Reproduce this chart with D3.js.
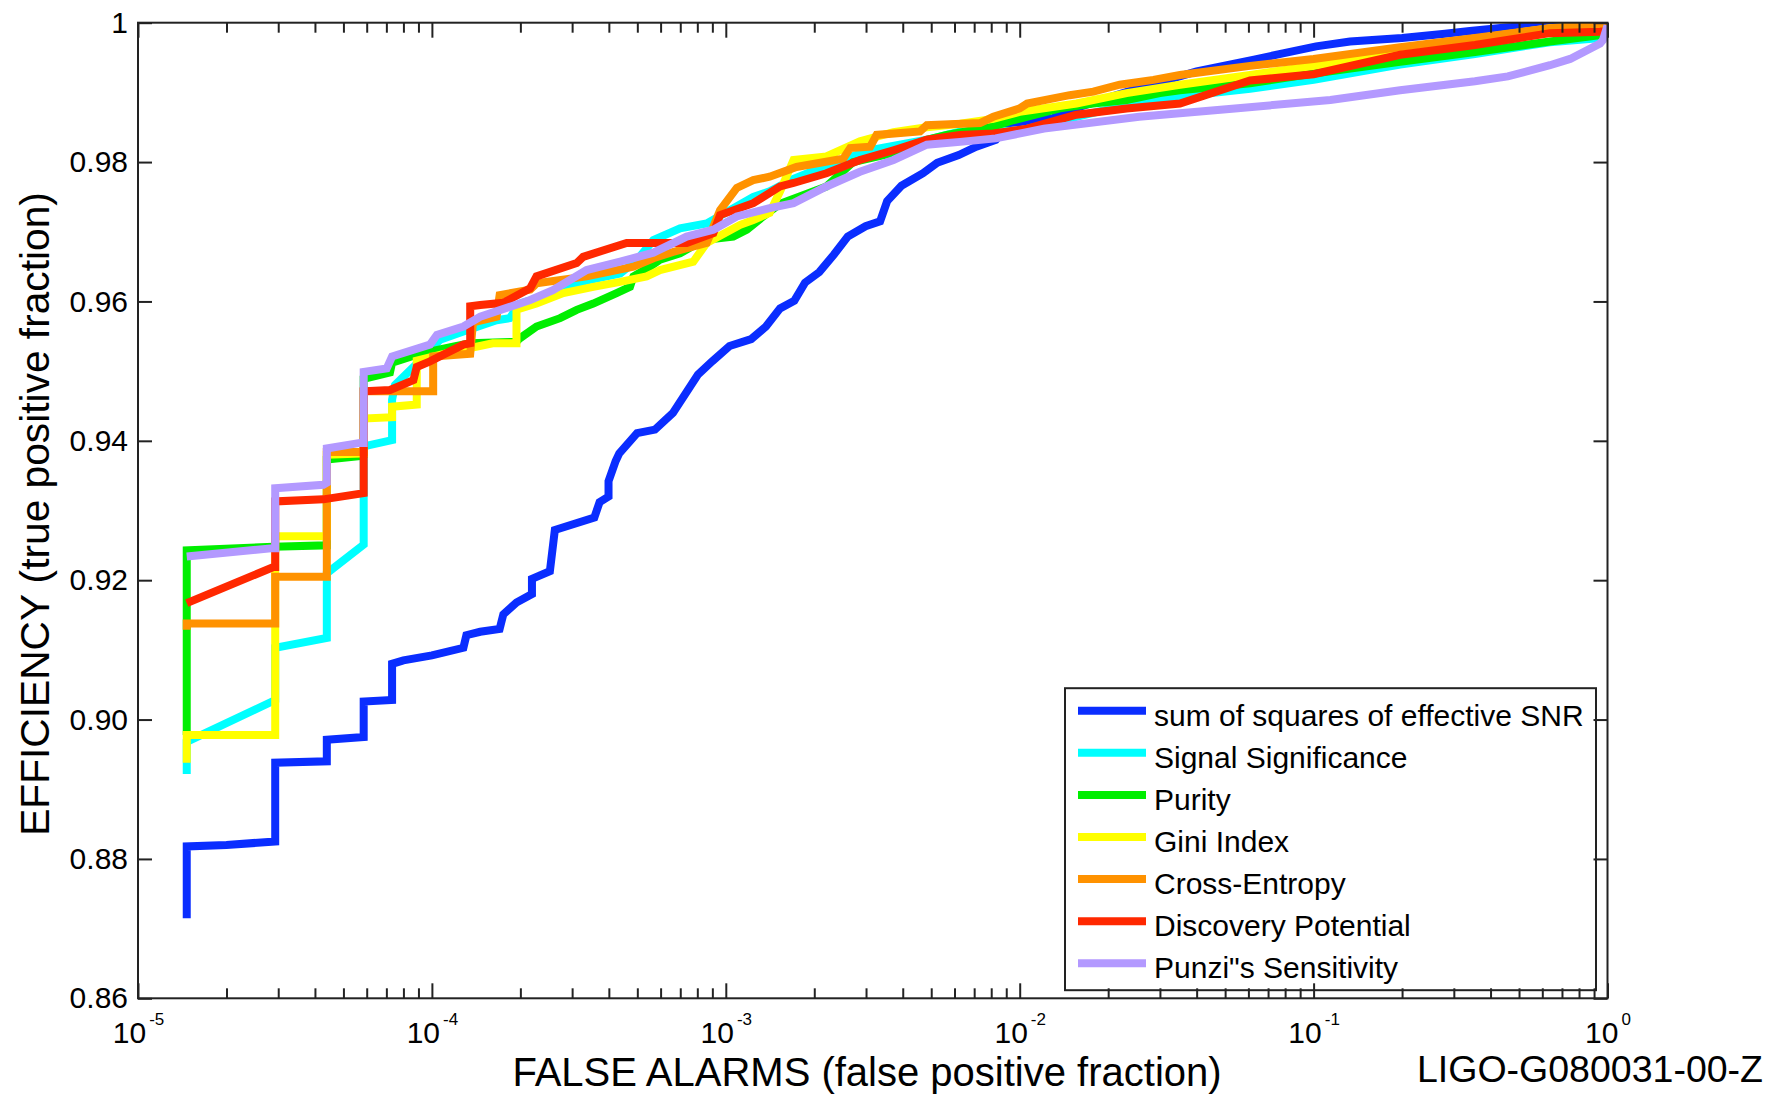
<!DOCTYPE html>
<html>
<head>
<meta charset="utf-8">
<script src="https://cdn.jsdelivr.net/npm/d3@7"></script>
<style>
  body { margin: 0; background: #fff; }
  text { font-family: "Liberation Sans", Arial, Helvetica, sans-serif; fill: #000; }
</style>
</head>
<body>
<div id="chart"></div>
<script>
// ---- data: [false alarm fraction, efficiency] ----

const sumSnr = [
  [1.465e-5, 0.8715], [1.465e-5, 0.8818], [2.0e-5, 0.8820], [2.93e-5, 0.8825],
  [2.93e-5, 0.8938], [4.39e-5, 0.8940], [4.39e-5, 0.8971], [5.86e-5, 0.8975],
  [5.86e-5, 0.9026], [7.32e-5, 0.9028], [7.32e-5, 0.9080], [8.0e-5, 0.9085],
  [1.0e-4, 0.9092], [1.28e-4, 0.9103], [1.31e-4, 0.9121], [1.46e-4, 0.9126],
  [1.70e-4, 0.9130], [1.75e-4, 0.9151], [1.94e-4, 0.9168], [2.19e-4, 0.9180],
  [2.19e-4, 0.9202], [2.52e-4, 0.9213], [2.62e-4, 0.9272], [3.57e-4, 0.9290],
  [3.72e-4, 0.9312], [3.99e-4, 0.9320], [3.99e-4, 0.9342], [4.22e-4, 0.9371],
  [4.34e-4, 0.9382], [4.99e-4, 0.9411], [5.74e-4, 0.9416], [6.61e-4, 0.9440],
  [8.04e-4, 0.9495], [8.98e-4, 0.9514], [1.03e-3, 0.9536], [1.22e-3, 0.9546],
  [1.37e-3, 0.9564], [1.53e-3, 0.9590], [1.71e-3, 0.9601], [1.86e-3, 0.9627],
  [2.08e-3, 0.9642], [2.33e-3, 0.9667], [2.60e-3, 0.9693], [2.99e-3, 0.9708],
  [3.35e-3, 0.9715], [3.54e-3, 0.9744], [3.96e-3, 0.9766], [4.69e-3, 0.9784],
  [5.24e-3, 0.9799], [6.20e-3, 0.9810], [7.12e-3, 0.9822], [8.29e-3, 0.9832],
  [9.27e-3, 0.9856], [1.30e-2, 0.9863], [1.48e-2, 0.9875], [2.5e-2, 0.9905],
  [4.0e-2, 0.9930], [6.27e-2, 0.9947], [7.86e-2, 0.9956], [1.02e-1, 0.9966],
  [1.33e-1, 0.9973], [2.0e-1, 0.9978], [2.8e-1, 0.9984], [3.4e-1, 0.9988],
  [4.5e-1, 0.9993], [6.4e-1, 0.9998], [1.0, 1.0]
];

const signalSignificance = [
  [1.465e-5, 0.8922], [1.465e-5, 0.8968], [2.93e-5, 0.9028], [2.93e-5, 0.9103],
  [4.39e-5, 0.9117], [4.39e-5, 0.9210], [5.86e-5, 0.9251], [5.86e-5, 0.9392],
  [7.32e-5, 0.9401], [7.32e-5, 0.9459], [7.49e-5, 0.9480], [9.11e-5, 0.9515],
  [1.066e-4, 0.9545], [1.28e-4, 0.9557], [1.66e-4, 0.9573], [1.84e-4, 0.9576],
  [1.99e-4, 0.9597], [2.73e-4, 0.9615], [3.36e-4, 0.9630], [4.37e-4, 0.9640],
  [5.0e-4, 0.9660], [5.67e-4, 0.9688], [6.99e-4, 0.9705], [8.61e-4, 0.9712],
  [1.24e-3, 0.9750], [1.41e-3, 0.9758], [1.70e-3, 0.9776], [2.20e-3, 0.9795],
  [3.10e-3, 0.9817], [4.83e-3, 0.9832], [6.27e-3, 0.9844], [1.0e-2, 0.9845],
  [1.56e-2, 0.9865], [2.31e-2, 0.9882], [3.51e-2, 0.9894], [6.08e-2, 0.9905],
  [1.0e-1, 0.9918], [1.97e-1, 0.9940], [3.54e-1, 0.9955], [6.37e-1, 0.9972],
  [9.43e-1, 0.9978], [1.0, 0.9985]
];

const purity = [
  [1.465e-5, 0.8978], [1.465e-5, 0.9243], [2.89e-5, 0.9248], [4.39e-5, 0.9250],
  [4.39e-5, 0.9373], [5.69e-5, 0.9378], [5.86e-5, 0.9380], [5.86e-5, 0.9489],
  [7.20e-5, 0.9498], [7.32e-5, 0.9512], [9.11e-5, 0.9525], [1.18e-4, 0.9535],
  [1.35e-4, 0.9540], [1.94e-4, 0.9542], [1.99e-4, 0.9547], [2.27e-4, 0.9564],
  [2.73e-4, 0.9576], [3.11e-4, 0.9588], [3.54e-4, 0.9597], [4.25e-4, 0.9612],
  [4.72e-4, 0.9621], [4.85e-4, 0.9636], [5.52e-4, 0.9650], [5.97e-4, 0.9660],
  [6.99e-4, 0.9669], [8.38e-4, 0.9688], [1.06e-3, 0.9693], [1.18e-3, 0.9703],
  [1.34e-3, 0.9722], [1.53e-3, 0.9740], [2.20e-3, 0.9765], [2.71e-3, 0.9800],
  [3.72e-3, 0.9813], [4.83e-3, 0.9832], [5.65e-3, 0.9839], [8.13e-3, 0.9851],
  [9.49e-3, 0.9860], [1.37e-2, 0.9877], [1.78e-2, 0.9884], [2.31e-2, 0.9889],
  [3.0e-2, 0.9899], [3.51e-2, 0.9903], [6.08e-2, 0.9913], [1.0e-1, 0.9927],
  [1.97e-1, 0.9944], [3.54e-1, 0.9958], [6.37e-1, 0.9973], [9.43e-1, 0.9982],
  [1.0, 0.9990]
];

const giniIndex = [
  [1.465e-5, 0.8938], [1.465e-5, 0.8978], [2.93e-5, 0.8978], [2.93e-5, 0.9263],
  [4.39e-5, 0.9263], [4.39e-5, 0.9380], [5.86e-5, 0.9382], [5.86e-5, 0.9432],
  [7.32e-5, 0.9434], [7.32e-5, 0.9449], [8.88e-5, 0.9452], [8.88e-5, 0.9515],
  [1.18e-4, 0.9528], [1.61e-4, 0.9540], [1.94e-4, 0.9540], [1.94e-4, 0.9588],
  [2.27e-4, 0.9597], [2.80e-4, 0.9612], [3.54e-4, 0.9621], [4.37e-4, 0.9628],
  [5.38e-4, 0.9636], [5.97e-4, 0.9645], [7.75e-4, 0.9657], [8.61e-4, 0.9684],
  [1.12e-3, 0.9710], [1.24e-3, 0.9717], [1.41e-3, 0.9727], [1.53e-3, 0.9758],
  [1.70e-3, 0.9803], [2.20e-3, 0.9808], [2.86e-3, 0.9830], [3.72e-3, 0.9843],
  [4.83e-3, 0.9850], [6.27e-3, 0.9855], [8.13e-3, 0.9862], [1.0e-2, 0.9872],
  [1.56e-2, 0.9884], [2.31e-2, 0.9899], [3.51e-2, 0.9911], [6.08e-2, 0.9925],
  [1.0e-1, 0.9938], [1.97e-1, 0.9958], [3.54e-1, 0.9977], [6.37e-1, 0.9992],
  [1.0, 0.9999]
];

const crossEntropy = [
  [1.465e-5, 0.9129], [1.465e-5, 0.9138], [2.93e-5, 0.9138], [2.93e-5, 0.9205],
  [4.39e-5, 0.9205], [4.39e-5, 0.9384], [5.86e-5, 0.9384], [5.86e-5, 0.9471],
  [1.01e-4, 0.9471], [1.01e-4, 0.9521], [1.35e-4, 0.9525], [1.38e-4, 0.9570],
  [1.66e-4, 0.9578], [1.70e-4, 0.9609], [2.16e-4, 0.9617], [2.27e-4, 0.9626],
  [3.36e-4, 0.9636], [4.85e-4, 0.9650], [5.67e-4, 0.9662], [6.61e-4, 0.9671],
  [8.61e-4, 0.9684], [9.07e-4, 0.9707], [9.56e-4, 0.9731], [1.09e-3, 0.9763],
  [1.24e-3, 0.9774], [1.41e-3, 0.9779], [1.74e-3, 0.9793], [2.51e-3, 0.9805],
  [2.65e-3, 0.9820], [3.10e-3, 0.9822], [3.26e-3, 0.9839], [4.58e-3, 0.9844],
  [4.83e-3, 0.9853], [7.33e-3, 0.9856], [8.13e-3, 0.9865], [1.0e-2, 0.9877],
  [1.06e-2, 0.9884], [1.48e-2, 0.9896], [1.78e-2, 0.9901], [2.19e-2, 0.9911],
  [2.85e-2, 0.9918], [3.51e-2, 0.9925], [6.08e-2, 0.9938], [1.0e-1, 0.9948],
  [1.97e-1, 0.9965], [3.54e-1, 0.9978], [6.37e-1, 0.9992], [1.0, 0.9998]
];

const discoveryPotential = [
  [1.465e-5, 0.9167], [2.89e-5, 0.9219], [2.93e-5, 0.9219], [2.93e-5, 0.9313],
  [4.27e-5, 0.9316], [5.86e-5, 0.9325], [5.86e-5, 0.9471], [7.20e-5, 0.9473],
  [8.65e-5, 0.9487], [8.88e-5, 0.9506], [9.85e-5, 0.9514], [1.28e-4, 0.9538],
  [1.35e-4, 0.9540], [1.35e-4, 0.9593], [1.46e-4, 0.9595], [1.75e-4, 0.9598],
  [2.16e-4, 0.9619], [2.27e-4, 0.9636], [3.11e-4, 0.9655], [3.27e-4, 0.9664],
  [4.60e-4, 0.9684], [7.36e-4, 0.9684], [9.07e-4, 0.9698], [9.56e-4, 0.9724],
  [1.24e-3, 0.9741], [1.53e-3, 0.9765], [1.70e-3, 0.9770], [2.20e-3, 0.9784],
  [2.86e-3, 0.9803], [3.72e-3, 0.9817], [4.83e-3, 0.9832], [6.27e-3, 0.9839],
  [8.13e-3, 0.9841], [1.06e-2, 0.9848], [1.56e-2, 0.9868], [2.31e-2, 0.9877],
  [3.51e-2, 0.9884], [6.08e-2, 0.9917], [1.0e-1, 0.9926], [1.97e-1, 0.9954],
  [3.54e-1, 0.9968], [6.37e-1, 0.9985], [9.43e-1, 0.9987], [1.0, 0.9988]
];

const punziSensitivity = [
  [1.465e-5, 0.9234], [2.89e-5, 0.9246], [2.93e-5, 0.9246], [2.93e-5, 0.9332],
  [4.27e-5, 0.9337], [4.39e-5, 0.9340], [4.39e-5, 0.9389], [5.69e-5, 0.9397],
  [5.86e-5, 0.9397], [5.86e-5, 0.9499], [7.02e-5, 0.9504], [7.32e-5, 0.9521],
  [9.85e-5, 0.9538], [1.04e-4, 0.9552], [1.28e-4, 0.9564], [1.46e-4, 0.9578],
  [2.16e-4, 0.9602], [2.58e-4, 0.9616], [3.36e-4, 0.9645], [4.37e-4, 0.9657],
  [5.67e-4, 0.9670], [7.36e-4, 0.9693], [9.07e-4, 0.9703], [1.09e-3, 0.9722],
  [1.41e-3, 0.9734], [1.70e-3, 0.9741], [2.20e-3, 0.9765], [2.86e-3, 0.9786],
  [3.72e-3, 0.9803], [4.83e-3, 0.9825], [6.27e-3, 0.9829], [8.29e-3, 0.9834],
  [1.21e-2, 0.9848], [2.55e-2, 0.9865], [5.40e-2, 0.9877], [1.14e-1, 0.9889],
  [1.97e-1, 0.9903], [3.54e-1, 0.9916], [4.58e-1, 0.9923], [6.37e-1, 0.9939],
  [7.46e-1, 0.9948], [9.43e-1, 0.9970], [9.65e-1, 0.9975], [1.0, 0.9996]
];

const seriesNames = [
  "sum of squares of effective SNR", "Signal Significance", "Purity",
  "Gini Index", "Cross-Entropy", "Discovery Potential", "Punzi\"s Sensitivity"
];
const seriesValues = [
  sumSnr, signalSignificance, purity, giniIndex,
  crossEntropy, discoveryPotential, punziSensitivity
];

const xMajorTicks = [1e-5, 1e-4, 1e-3, 1e-2, 1e-1, 1];
const yTicks = [0.86, 0.88, 0.90, 0.92, 0.94, 0.96, 0.98, 1];

// ---- styles ----
const colors = ["#0a2dff", "#00ffff", "#00ee00", "#ffff00", "#ff9200", "#ff2800", "#b399ff"];

const svgWidth = 1779;
const svgHeight = 1094;

const margin = {
  top: 22.7,
  right: 171.5,
  bottom: 95.7,
  left: 138
};

const chartWidth = svgWidth - margin.left - margin.right;
const chartHeight = svgHeight - margin.top - margin.bottom;

const svg = d3.select("#chart")
  .append("svg")
  .attr("width", svgWidth)
  .attr("height", svgHeight)
  .style("display", "block");

svg.append("rect")
  .attr("width", svgWidth)
  .attr("height", svgHeight)
  .attr("fill", "#fff");

const chartGroup = svg.append("g")
  .attr("transform", `translate(${margin.left}, ${margin.top})`);

// scales
const xScale = d3.scaleLog()
  .domain([1e-5, 1])
  .range([0, chartWidth]);

const yScale = d3.scaleLinear()
  .domain([0.86, 1])
  .range([chartHeight, 0]);

// clip curves to the axes box
chartGroup.append("clipPath")
  .attr("id", "plot-clip")
  .append("rect")
  .attr("width", chartWidth)
  .attr("height", chartHeight);

const line = d3.line()
  .x(d => xScale(d[0]))
  .y(d => yScale(d[1]));

chartGroup.append("g")
  .attr("clip-path", "url(#plot-clip)")
  .selectAll("path")
  .data(seriesValues)
  .enter()
  .append("path")
  .attr("d", line)
  .attr("fill", "none")
  .attr("stroke", (d, i) => colors[i])
  .attr("stroke-width", 8)
  .attr("stroke-linejoin", "miter")
  .attr("stroke-miterlimit", 2);

// ------ LEGEND ------
const legend = chartGroup.append("g")
  .attr("transform", "translate(927, 665.5)");

legend.append("rect")
  .attr("width", 531)
  .attr("height", 302)
  .attr("fill", "#fff")
  .attr("stroke", "#222")
  .attr("stroke-width", 2);

const legendRows = legend.selectAll("g.row")
  .data(seriesNames)
  .enter()
  .append("g")
  .attr("class", "row")
  .attr("transform", (d, i) => `translate(0, ${22.5 + i * 42.1})`);

legendRows.append("line")
  .attr("x1", 13)
  .attr("x2", 81)
  .attr("stroke", (d, i) => colors[i])
  .attr("stroke-width", 8);

legendRows.append("text")
  .attr("x", 89)
  .attr("y", 15)
  .attr("font-size", 30)
  .text(d => d);

// ------ AXES ------
const xMinorTicks = [];
xMajorTicks.slice(0, -1).forEach(t => {
  for (let k = 2; k < 10; k++) xMinorTicks.push(k * t);
});

function styleAxis(g) {
  g.select(".domain").remove();
  g.selectAll(".tick line").attr("stroke", "#222").attr("stroke-width", 2);
  g.attr("font-family", null).attr("font-size", 30);
}

// bottom: major with labels, ticks pointing inward
const bottomAxis = d3.axisBottom(xScale)
  .tickValues(xMajorTicks)
  .tickSizeInner(-15)
  .tickSizeOuter(0)
  .tickFormat("");

const xAxis = chartGroup.append("g")
  .attr("transform", `translate(0, ${chartHeight})`)
  .call(bottomAxis)
  .call(styleAxis);

xAxis.selectAll(".tick text")
  .attr("y", 45)
  .attr("dy", null)
  .each(function(d) {
    const t = d3.select(this);
    t.append("tspan").text("10");
    t.append("tspan")
      .attr("dx", 3)
      .attr("dy", -18)
      .attr("font-size", 17)
      .text(Math.round(Math.log10(d)));
  });

chartGroup.append("g")
  .attr("transform", `translate(0, ${chartHeight})`)
  .call(d3.axisBottom(xScale).tickValues(xMinorTicks).tickSizeInner(-10).tickSizeOuter(0).tickFormat(""))
  .call(styleAxis);

// top
chartGroup.append("g")
  .call(d3.axisTop(xScale).tickValues(xMajorTicks).tickSizeInner(-15).tickSizeOuter(0).tickFormat(""))
  .call(styleAxis);

chartGroup.append("g")
  .call(d3.axisTop(xScale).tickValues(xMinorTicks).tickSizeInner(-10).tickSizeOuter(0).tickFormat(""))
  .call(styleAxis);

// left with labels
const leftAxis = d3.axisLeft(yScale)
  .tickValues(yTicks)
  .tickSizeInner(-14)
  .tickSizeOuter(0)
  .tickPadding(10)
  .tickFormat(d => d === 1 ? "1" : d.toFixed(2));

chartGroup.append("g")
  .call(leftAxis)
  .call(styleAxis);

// right
chartGroup.append("g")
  .attr("transform", `translate(${chartWidth}, 0)`)
  .call(d3.axisRight(yScale).tickValues(yTicks).tickSizeInner(-14).tickSizeOuter(0).tickFormat(""))
  .call(styleAxis);

// frame
chartGroup.append("rect")
  .attr("width", chartWidth)
  .attr("height", chartHeight)
  .attr("fill", "none")
  .attr("stroke", "#222")
  .attr("stroke-width", 2);

// axis titles
svg.append("text")
  .attr("x", 867)
  .attr("y", 1086)
  .attr("text-anchor", "middle")
  .attr("font-size", 40)
  .text("FALSE ALARMS (false positive fraction)");

svg.append("text")
  .attr("transform", "translate(49, 514) rotate(-90)")
  .attr("text-anchor", "middle")
  .attr("font-size", 40.7)
  .text("EFFICIENCY (true positive fraction)");

svg.append("text")
  .attr("x", 1417)
  .attr("y", 1082)
  .attr("font-size", 37.5)
  .text("LIGO-G080031-00-Z");
</script>
</body>
</html>
